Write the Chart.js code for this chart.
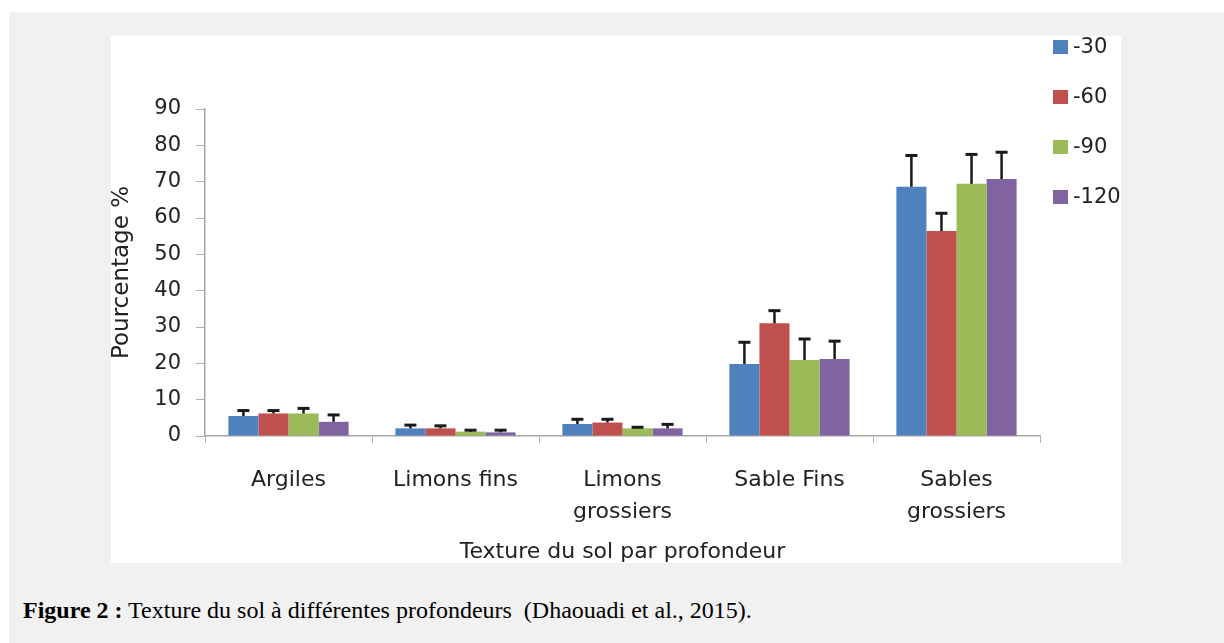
<!DOCTYPE html>
<html lang="fr">
<head>
    <meta charset="UTF-8">
    <title>Texture du sol à différentes profondeurs</title>
    <script src="https://cdn.jsdelivr.net/npm/chart.js"></script>
    <style>
        body { margin: 0; background: #fff; width: 1224px; height: 643px; position: relative; overflow: hidden; }
        .outer { position: absolute; left: 9px; top: 12px; right: 0; bottom: 0; background: #f1f1f1; }
        .panel { position: absolute; left: 111px; top: 36px; width: 1010px; height: 527px; background: #fff; }
        #chart { position: absolute; left: 111px; top: 36px; }
        .legend { position: absolute; left: 1053px; top: 0; font-family: 'DejaVu Sans', sans-serif; font-size: 21px; color: #222; }
        .legend div { position: absolute; white-space: nowrap; line-height: 24px; }
        .legend span.box { display: inline-block; width: 15px; height: 14px; margin-right: 5px; vertical-align: -1px; }
        .caption { position: absolute; left: 23px; top: 598px; font-family: 'Liberation Serif', 'Times New Roman', serif; font-size: 24px; line-height: 24px; color: #000; white-space: pre; }
    </style>
</head>
<body>
    <div class="outer"></div>
    <div class="panel"></div>
    <canvas id="chart" width="1010" height="527"></canvas>
    <div class="legend" id="legend"></div>
    <div class="caption"><b>Figure 2 :</b> Texture du sol à différentes profondeurs  (Dhaouadi et al., 2015).</div>

    <script>
        // catégories (texture) et profondeurs
        const categories = ["Argiles", "Limons fins", ["Limons", "grossiers"], "Sable Fins", ["Sables", "grossiers"]];
        const depths = ["-30", "-60", "-90", "-120"];
        const colors = ["#4f81bd", "#c0504d", "#9bbb59", "#8064a2"];

        // valeurs moyennes (%)
        const vals30 = [5.5, 2.1, 3.3, 19.8, 68.6];
        const vals60 = [6.2, 2.1, 3.7, 31.0, 56.4];
        const vals90 = [6.2, 1.2, 2.1, 20.9, 69.4];
        const vals120 = [3.9, 1.0, 2.1, 21.2, 70.7];

        // barres d'erreur (vers le haut seulement)
        const err30 = [1.5, 0.9, 1.3, 6.0, 8.6];
        const err60 = [0.8, 0.7, 0.9, 3.5, 4.9];
        const err90 = [1.4, 0.4, 0.3, 5.8, 8.1];
        const err120 = [1.9, 0.6, 1.1, 4.9, 7.4];

        const yTicks = [0, 10, 20, 30, 40, 50, 60, 70, 80, 90];

        const seriesVals = [vals30, vals60, vals90, vals120];
        const seriesErr = [err30, err60, err90, err120];

        Chart.defaults.font.family = "'DejaVu Sans', sans-serif";
        Chart.defaults.color = "#222";

        // dessine les barres d'erreur au-dessus de chaque barre
        const errorBars = {
            id: "errorBars",
            afterDatasetsDraw(chart) {
                const ctx = chart.ctx;
                const y = chart.scales.y;
                chart.data.datasets.forEach((ds, i) => {
                    const meta = chart.getDatasetMeta(i);
                    meta.data.forEach((bar, j) => {
                        const top = y.getPixelForValue(ds.data[j] + ds.errors[j]);
                        ctx.save();
                        ctx.strokeStyle = "#1a1a1a";
                        ctx.lineWidth = 2.5;
                        ctx.beginPath();
                        ctx.moveTo(bar.x, bar.y);
                        ctx.lineTo(bar.x, top);
                        ctx.stroke();
                        ctx.lineWidth = 3;
                        ctx.beginPath();
                        ctx.moveTo(bar.x - 6, top);
                        ctx.lineTo(bar.x + 6, top);
                        ctx.stroke();
                        ctx.restore();
                    });
                });
            }
        };

        const chart = new Chart(document.getElementById("chart"), {
            type: "bar",
            data: {
                labels: categories,
                datasets: depths.map((d, i) => ({
                    label: d,
                    data: seriesVals[i],
                    errors: seriesErr[i],
                    backgroundColor: colors[i],
                    borderWidth: 0,
                    categoryPercentage: 0.72,
                    barPercentage: 1.0
                }))
            },
            options: {
                responsive: false,
                animation: false,
                layout: { padding: { top: 73, right: 81, bottom: 0, left: 0 } },
                plugins: {
                    legend: { display: false },
                    tooltip: { enabled: false }
                },
                scales: {
                    x: {
                        grid: { offset: true, drawOnChartArea: false, drawTicks: true, tickLength: 7, color: "#b0b0b0" },
                        border: { color: "#a6a6a6", width: 1.5 },
                        ticks: { font: { size: 22, lineHeight: 1.45 }, padding: 21, maxRotation: 0, autoSkip: false, color: "#222" },
                        title: { display: true, text: "Texture du sol par profondeur", font: { size: 22, lineHeight: 1.0 }, padding: { top: 0, bottom: 0 }, color: "#222" },
                        afterFit(scale) { scale.height = 127; }
                    },
                    y: {
                        min: 0,
                        max: 90,
                        afterBuildTicks(scale) { scale.ticks = yTicks.map(v => ({ value: v })); },
                        grid: { drawOnChartArea: false, drawTicks: true, tickLength: 9, color: "#b0b0b0" },
                        border: { color: "#a6a6a6", width: 1.5 },
                        ticks: { font: { size: 21 }, padding: 15, color: "#222" },
                        title: { display: true, text: "Pourcentage %", font: { size: 23, lineHeight: 1 }, padding: { top: 0, bottom: 0 }, color: "#222" },
                        afterFit(scale) { scale.width = 94; }
                    }
                }
            },
            plugins: [errorBars]
        });

        // légende (à droite, en dehors du cadre du graphique)
        const legend = document.getElementById("legend");
        depths.forEach((d, i) => {
            const item = document.createElement("div");
            item.style.top = (34 + i * 50) + "px";
            item.innerHTML = '<span class="box" style="background:' + colors[i] + '"></span>' + d;
            legend.appendChild(item);
        });
    </script>
</body>
</html>
